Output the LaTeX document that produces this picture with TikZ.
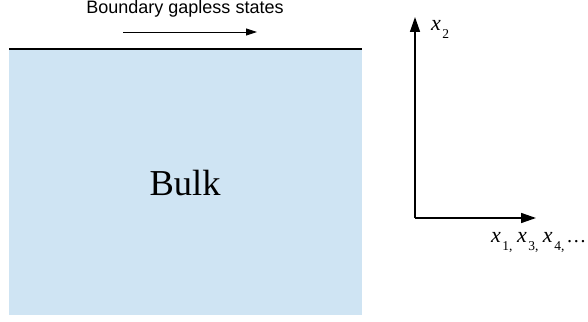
\documentclass[tikz,border=0pt]{standalone}
\usepackage{fontspec}
\setmainfont{Liberation Serif}
\newfontfamily\arialfont{Liberation Sans}
\usetikzlibrary{arrows.meta}
\definecolor{bulkblue}{RGB}{207,228,243}
\newcommand{\bigx}{{\fontsize{22}{24}\selectfont\textit{x}}}
\newcommand{\lowsub}[1]{\hspace{1.5pt}\raisebox{-8pt}{\fontsize{13.5}{15}\selectfont #1}}
\tikzset{
  axis/.style={line width=1.5pt,-{Triangle[length=15pt,width=10pt]}},
  flow/.style={line width=0.9pt,-{Triangle[length=11pt,width=7pt]}},
}
\begin{document}
\begin{tikzpicture}[x=1pt,y=-1pt]
\useasboundingbox (0,0) rectangle (588,321);
\fill[bulkblue] (9,49) rectangle (362,315);
\coordinate (bl) at (9,49);
\coordinate (br) at (362,49);
\draw[line width=2.4pt] (bl) -- (br);
\node[anchor=base,inner sep=0pt] (bulk) at (185,195) {\fontsize{36.5}{40}\selectfont Bulk};
\node[anchor=base,inner sep=0pt] (bgs) at (185,14) {\arialfont\fontsize{18}{20}\selectfont Boundary gapless states};
\coordinate (fa) at (123,32);
\coordinate (fb) at (257,32);
\draw[flow] (fa) -- (fb);
\coordinate (o) at (415,218);
\coordinate (ytop) at (415,17);
\coordinate (xend) at (536,218);
\draw[axis] (o) -- (ytop);
\draw[axis] (o) -- (xend);
\node[anchor=base west,inner sep=0pt] (x2) at (431,31) {\bigx\lowsub{2}};
\node[anchor=base west,inner sep=0pt] (x1) at (491,242) {\bigx\lowsub{1,}\hspace{4.5pt}\bigx\lowsub{3,}\hspace{4.5pt}\bigx\lowsub{4,}\hspace{2pt}{\fontsize{20}{22}\selectfont\dots}};
\end{tikzpicture}
\end{document}
